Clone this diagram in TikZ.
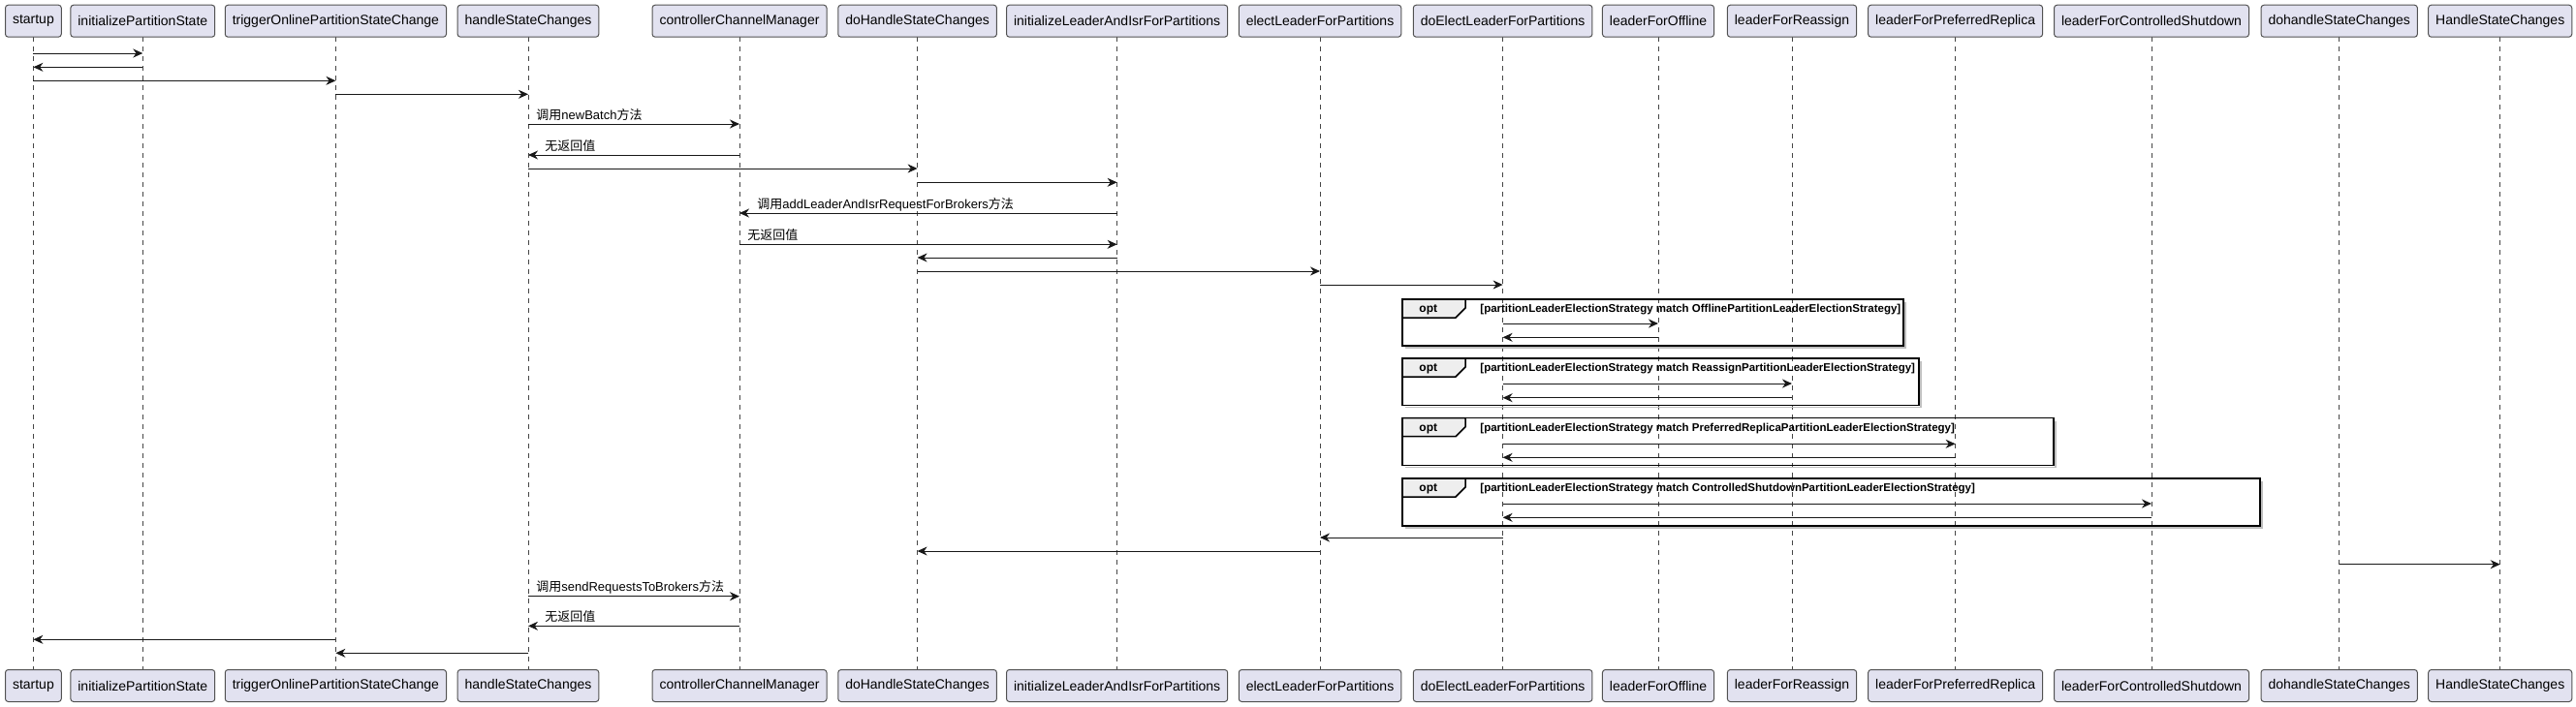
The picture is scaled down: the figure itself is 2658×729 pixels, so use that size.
\documentclass[tikz,border=0pt]{standalone}
\usepackage{fontspec}
\setmainfont{Liberation Sans}
\newfontfamily\cjk{Noto Sans CJK SC}
\usetikzlibrary{arrows.meta,calc}
\definecolor{partfill}{HTML}{E2E2F0}
\definecolor{partdraw}{HTML}{181818}
\definecolor{tabfill}{HTML}{EEEEEE}
\tikzset{
  part/.style={draw=partdraw!75, line width=0.5pt, fill=partfill, rounded corners=1.5pt,
    minimum height=16.5pt, inner xsep=3.75pt, inner ysep=0pt, font=\fontsize{7}{8}\selectfont, text=black},
  life/.style={draw=partdraw!80, line width=0.5pt, dash pattern=on 2.5pt off 2.5pt},
  msg/.style={draw=partdraw, line width=0.5pt, -{Stealth[length=5pt,width=4.5pt,inset=1.6pt]}},
  lbl/.style={font=\fontsize{6.5}{7}\selectfont, inner sep=0pt, text=black},
  frm/.style={draw=black, line width=0.75pt},
  optl/.style={font=\bfseries\fontsize{6}{7}\selectfont, inner sep=0pt},
  condl/.style={font=\bfseries\fontsize{5.75}{7}\selectfont, inner sep=0pt},
}
\newcommand\seqmsg[3]{\draw[msg] (#1 |- 0,#3) -- (#2 |- 0,#3);}
\newcommand\optframe[5]{%
  \draw[black!25, line width=0.75pt] (1450,#4+2) -- (#3+2,#4+2) -- (#3+2,#2+3);
  \draw[frm] (1447,#2) rectangle (#3,#4);
  \draw[frm, fill=tabfill] (1447,#2) -- (1512,#2) -- (1512,#2+9) -- (1502,#2+19) -- (1447,#2+19) -- cycle;
  \node[optl, anchor=base west] (#1a) at (1464,#2+13.5) {opt};
  \node[condl, anchor=base west] (#1b) at (1527,#2+13.5) {#5};
}
\begin{document}
\begin{tikzpicture}[x=0.5pt,y=-0.5pt]
\useasboundingbox (0,0) rectangle (2658,729);
\foreach \n/\t/\x in {1/startup/34.4, 2/initializePartitionState/147.3,
  3/triggerOnlinePartitionStateChange/346.4, 4/handleStateChanges/545,
  5/controllerChannelManager/763, 6/doHandleStateChanges/946.6,
  7/initializeLeaderAndIsrForPartitions/1152.6, 8/electLeaderForPartitions/1362,
  9/doElectLeaderForPartitions/1550.6, 10/leaderForOffline/1711,
  11/leaderForReassign/1849, 12/leaderForPreferredReplica/2017.6,
  13/leaderForControlledShutdown/2220, 14/dohandleStateChanges/2413.7,
  15/HandleStateChanges/2579.7} {
  \coordinate (lt\n) at (\x,38.3);
  \coordinate (lb\n) at (\x,691.7);
  \draw[life] (lt\n) -- (lb\n);
  \node[part] (p\n) at (\x,21.7) {\t};
  \node[part] (b\n) at (\x,708) {\t};
}
% messages
\seqmsg{p1}{p2}{55}
\seqmsg{p2}{p1}{69.3}
\seqmsg{p1}{p3}{83.3}
\seqmsg{p3}{p4}{97.3}
\seqmsg{p4}{p5}{128}
\node[lbl, anchor=base west] (t1) at ($(p4 |- 0,128)+(8,-5)$) {{\cjk 调用}newBatch{\cjk 方法}};
\seqmsg{p5}{p4}{160}
\node[lbl, anchor=base west] (t2) at ($(p4 |- 0,160)+(17,-5)$) {\cjk 无返回值};
\seqmsg{p4}{p6}{174}
\seqmsg{p6}{p7}{188.3}
\seqmsg{p7}{p5}{220}
\node[lbl, anchor=base west] (t3) at ($(p5 |- 0,220)+(18,-5)$) {{\cjk 调用}addLeaderAndIsrRequestForBrokers{\cjk 方法}};
\seqmsg{p5}{p7}{252.3}
\node[lbl, anchor=base west] (t4) at ($(p5 |- 0,252.3)+(8,-5)$) {\cjk 无返回值};
\seqmsg{p7}{p6}{266}
\seqmsg{p6}{p8}{280}
\seqmsg{p8}{p9}{294}
% opt groups
\optframe{o1}{309}{1964}{357}{[partitionLeaderElectionStrategy match OfflinePartitionLeaderElectionStrategy]}
\seqmsg{p9}{p10}{334}
\seqmsg{p10}{p9}{348.3}
\optframe{o2}{370}{1980}{418.3}{[partitionLeaderElectionStrategy match ReassignPartitionLeaderElectionStrategy]}
\seqmsg{p9}{p11}{396}
\seqmsg{p11}{p9}{410.7}
\optframe{o3}{431.7}{2119}{480.5}{[partitionLeaderElectionStrategy match PreferredReplicaPartitionLeaderElectionStrategy]}
\seqmsg{p9}{p12}{458.3}
\seqmsg{p12}{p9}{472.3}
\optframe{o4}{494}{2332}{543}{[partitionLeaderElectionStrategy match ControlledShutdownPartitionLeaderElectionStrategy]}
\seqmsg{p9}{p13}{520}
\seqmsg{p13}{p9}{534.3}
\seqmsg{p9}{p8}{555}
\seqmsg{p8}{p6}{569}
\seqmsg{p14}{p15}{582.7}
\seqmsg{p4}{p5}{615.7}
\node[lbl, anchor=base west] (t5) at ($(p4 |- 0,615.7)+(8,-5)$) {{\cjk 调用}sendRequestsToBrokers{\cjk 方法}};
\seqmsg{p5}{p4}{646.3}
\node[lbl, anchor=base west] (t6) at ($(p4 |- 0,646.3)+(17,-5)$) {\cjk 无返回值};
\seqmsg{p3}{p1}{660.3}
\seqmsg{p4}{p3}{674.3}
\end{tikzpicture}
\end{document}
